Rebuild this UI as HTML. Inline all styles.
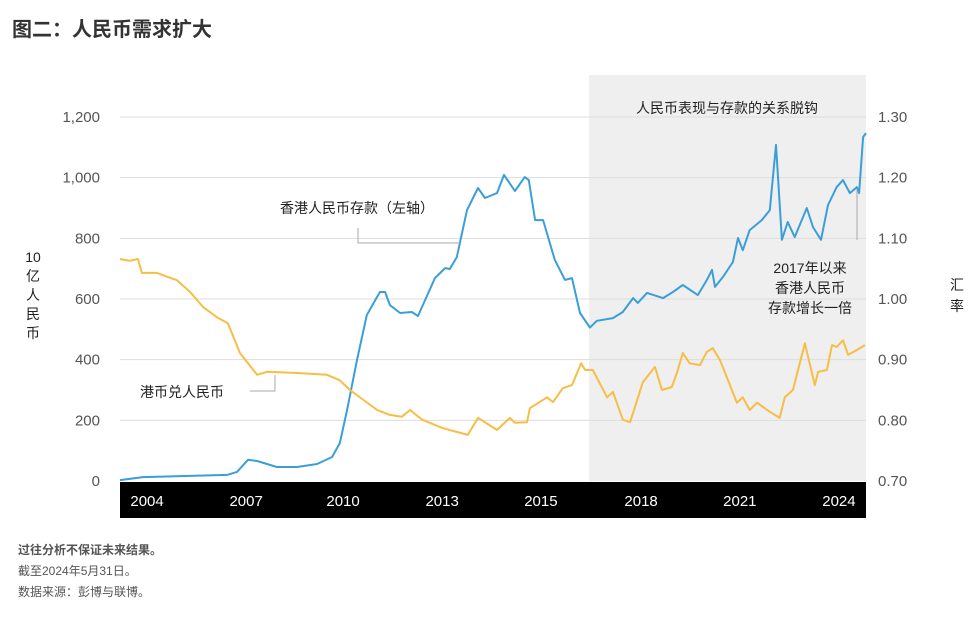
<!DOCTYPE html>
<html><head><meta charset="utf-8"><style>
body{margin:0;background:#fff;width:976px;height:613px;overflow:hidden;font-family:"Liberation Sans","Noto Sans CJK SC",sans-serif}
svg text{font-family:"Liberation Sans","Noto Sans CJK SC",sans-serif}
</style></head><body>
<svg width="976" height="613">
<text x="12" y="36" font-size="20" font-weight="bold" fill="#333">图二：人民币需求扩大</text>
<rect x="589" y="75" width="277" height="406" fill="#efefef"/>
<g id="grid"></g>
<g id="series"></g>
<rect x="120" y="482" width="746" height="36" fill="#000"/>
<g id="axes"></g>
<g font-size="14" fill="#222">
<text x="357" y="213" text-anchor="middle">香港人民币存款（左轴）</text>
<text x="140" y="397">港币兑人民币</text>
<text x="727" y="113" text-anchor="middle">人民币表现与存款的关系脱钩</text>
<text x="810" y="273" text-anchor="middle">2017年以来</text>
<text x="810" y="293" text-anchor="middle">香港人民币</text>
<text x="810" y="313" text-anchor="middle">存款增长一倍</text>
</g>
<g stroke="#aaa" fill="none" stroke-width="1">
<path d="M358 228V243H460"/>
<path d="M250 391H275V375"/>
<path d="M857 190V240"/>
</g>
<g font-size="14" fill="#222">
<text x="33" y="262" text-anchor="middle">10</text>
<text x="33" y="281" text-anchor="middle">亿</text>
<text x="33" y="300" text-anchor="middle">人</text>
<text x="33" y="319" text-anchor="middle">民</text>
<text x="33" y="338" text-anchor="middle">币</text>
<text x="957" y="290" text-anchor="middle">汇</text>
<text x="957" y="311" text-anchor="middle">率</text>
</g>
<g font-size="12" fill="#555">
<text x="18" y="554" font-weight="bold">过往分析不保证未来结果。</text>
<text x="18" y="575">截至2024年5月31日。</text>
<text x="18" y="596">数据来源：彭博与联博。</text>
</g>
</svg>
<script>
const depYears=[2004.00,2004.63,2006.93,2007.20,2007.50,2007.75,2008.29,2008.84,2009.39,2009.80,2010.01,2010.21,2010.48,2010.75,2011.03,2011.11,2011.25,2011.38,2011.66,2011.98,2012.15,2012.61,2012.89,2013.02,2013.21,2013.49,2013.79,2013.98,2014.31,2014.50,2014.80,2015.07,2015.18,2015.35,2015.57,2015.89,2016.17,2016.36,2016.58,2016.85,2017.04,2017.48,2017.75,2018.03,2018.16,2018.41,2018.85,2019.12,2019.39,2019.80,2020.05,2020.19,2020.27,2020.49,2020.76,2020.90,2021.03,2021.22,2021.55,2021.77,2021.94,2022.10,2022.26,2022.45,2022.78,2022.95,2023.17,2023.36,2023.60,2023.77,2023.96,2024.15,2024.21,2024.32,2024.40];
const depValues=[3,13,20,30,70,66,46,46,56,79,125,234,399,547,607,623,623,580,554,557,544,669,702,699,738,893,966,933,949,1009,956,1002,992,860,860,729,663,669,554,506,528,537,557,603,587,620,603,623,646,613,663,696,640,673,722,801,761,827,860,893,1108,795,854,804,900,837,795,910,969,992,949,969,949,1134,1147];
const rateYears=[2004.00,2004.27,2004.49,2004.60,2005.01,2005.37,2005.56,2005.91,2006.27,2006.65,2006.95,2007.28,2007.75,2008.02,2008.84,2009.66,2010.01,2010.29,2011.03,2011.38,2011.71,2011.93,2012.26,2012.83,2013.51,2013.79,2014.31,2014.66,2014.80,2015.13,2015.21,2015.68,2015.84,2016.11,2016.36,2016.61,2016.72,2016.93,2017.32,2017.48,2017.75,2017.95,2018.30,2018.63,2018.82,2019.09,2019.23,2019.39,2019.58,2019.86,2020.05,2020.21,2020.41,2020.87,2021.03,2021.22,2021.42,2021.77,2022.04,2022.18,2022.40,2022.73,2023.00,2023.09,2023.33,2023.47,2023.60,2023.77,2023.91,2024.15,2024.37];
const rateValues=[1.066,1.063,1.066,1.043,1.043,1.035,1.031,1.012,0.987,0.970,0.960,0.911,0.875,0.880,0.878,0.875,0.866,0.850,0.817,0.809,0.806,0.817,0.801,0.787,0.776,0.804,0.784,0.804,0.796,0.797,0.820,0.838,0.830,0.853,0.858,0.894,0.883,0.883,0.838,0.847,0.801,0.797,0.863,0.888,0.850,0.855,0.878,0.911,0.894,0.891,0.913,0.919,0.899,0.829,0.838,0.817,0.829,0.814,0.804,0.838,0.850,0.927,0.858,0.880,0.883,0.924,0.921,0.932,0.908,0.916,0.924];
const leftTicks=[0,200,400,600,800,1000,1200];
const leftTickLabels=["0","200","400","600","800","1,000","1,200"];
const rightTicks=[0.70,0.80,0.90,1.00,1.10,1.20,1.30];
const rightTickLabels=["0.70","0.80","0.90","1.00","1.10","1.20","1.30"];
const xTickYears=[2004.74,2007.45,2010.10,2012.81,2015.51,2018.25,2020.95,2023.66];
const xTickLabels=["2004","2007","2010","2013","2015","2018","2021","2024"];

const NS="http://www.w3.org/2000/svg";
const X0=120,X1=866,Y0=481,Y1=117;
const xs=y=>X0+(y-2004)/(2024.4-2004)*(X1-X0);
const yl=v=>Y0-v/1200*(Y0-Y1);
const yr=v=>Y0-(v-0.7)/0.6*(Y0-Y1);
function mk(tag,attrs,parent){const e=document.createElementNS(NS,tag);for(const k in attrs)e.setAttribute(k,attrs[k]);parent.appendChild(e);return e;}
const grid=document.getElementById('grid'),axes=document.getElementById('axes'),series=document.getElementById('series');
leftTicks.forEach((v,i)=>{
  if(v>0){const g=mk('line',{x1:X0,x2:X1,y1:yl(v),y2:yl(v),stroke:'#ddd','stroke-width':1},grid);
  
  }
  const t=mk('text',{x:100,y:yl(v)+5,'text-anchor':'end','font-size':15,fill:'#555'},axes);
  t.textContent=leftTickLabels[i];
  
  
});
rightTicks.forEach((v,i)=>{
  const t=mk('text',{x:878,y:yr(v)+5,'font-size':15,fill:'#555'},axes);
  t.textContent=rightTickLabels[i];
  
  
});
xTickYears.forEach((v,i)=>{
  const t=mk('text',{x:xs(v),y:506,'text-anchor':'middle','font-size':15,fill:'#fff'},axes);
  t.textContent=xTickLabels[i];
  
  
});
const dp=depYears.map((y,i)=>(i?'L':'M')+xs(y).toFixed(1)+' '+yl(depValues[i]).toFixed(1)).join('');
const l1=mk('path',{d:dp,fill:'none',stroke:'#3a9fd8','stroke-width':2,'stroke-linejoin':'round'},series);


const rp=rateYears.map((y,i)=>(i?'L':'M')+xs(y).toFixed(1)+' '+yr(rateValues[i]).toFixed(1)).join('');
const l2=mk('path',{d:rp,fill:'none',stroke:'#f6be44','stroke-width':2,'stroke-linejoin':'round'},series);


</script>
</body></html>
